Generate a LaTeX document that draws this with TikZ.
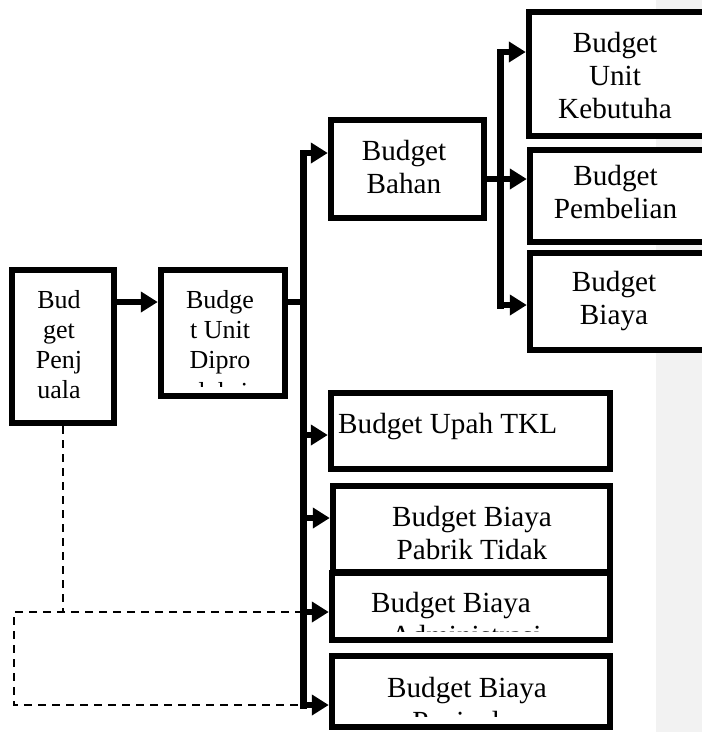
\documentclass[tikz,border=0pt]{standalone}
\usepackage{fontspec}
\setmainfont{Liberation Serif}
\usetikzlibrary{arrows.meta}
\begin{document}
\begin{tikzpicture}[x=1pt,y=-1pt,
  box/.style={draw, line width=6.5pt, fill=white, inner sep=0pt, rectangle},
  big/.style={font=\fontsize{29.2}{33}\selectfont, align=center, inner sep=0pt, anchor=base},
  small/.style={font=\fontsize{26}{30}\selectfont, align=center, inner sep=0pt, anchor=base},
  flow/.style={line width=6pt, -{Triangle[length=17pt,width=20pt]}},
  feed/.style={line width=6pt},
  trunk/.style={line width=7pt, line cap=rect},
  dashline/.style={line width=2.8pt, dash pattern=on 8pt off 6pt}
]
\useasboundingbox (0,0) rectangle (702,732);
\clip (0,0) rectangle (702,732);

% light side panel
\fill[gray!10] (656,0) rectangle (702,732);

% boxes
\node[box, minimum width=102pt, minimum height=153pt] (penj)  at (63,346.5) {};
\node[box, minimum width=124pt, minimum height=126pt] (prod)  at (223,333) {};
\node[box, minimum width=153pt, minimum height=98pt]  (bahan) at (407.5,169) {};
\node[box, minimum width=190pt, minimum height=124pt] (kebut) at (624,74) {};
\node[box, minimum width=190pt, minimum height=92pt]  (beli)  at (625,196) {};
\node[box, minimum width=190pt, minimum height=97pt]  (biaya) at (625,301.5) {};
\node[box, minimum width=279pt, minimum height=76pt]  (upah)  at (470.5,431) {};
\node[box, minimum width=277pt, minimum height=86pt]  (bop)   at (471.5,529) {};
\node[box, minimum width=278pt, minimum height=67pt]  (adm)   at (471,606.5) {};
\node[box, minimum width=278pt, minimum height=71pt]  (jual)  at (471,691.5) {};

% box texts (placed by the baseline of their last line)
\node[small] (penjT)  at (59,398)    {Bud\\get\\Penj\\uala};
\node[small] (prodT)  at (220,368)   {Budge\\t Unit\\Dipro};
\node[big]   (bahanT) at (404,193)   {Budget\\Bahan};
\node[big]   (kebutT) at (615,118)   {Budget\\Unit\\Kebutuha};
\node[big]   (beliT)  at (615.5,218) {Budget\\Pembelian};
\node[big]   (biayaT) at (614,324)   {Budget\\Biaya};
\node[big, anchor=base west] (upahT) at (338,433) {Budget Upah TKL};
\node[big]   (bopT)   at (472,559)   {Budget Biaya\\Pabrik Tidak};
\node[big]   (admT)   at (451,612)   {Budget Biaya};
\node[big]   (jualT)  at (467,697)   {Budget Biaya};

% lines cut off by the lower edge of their text boxes
\begin{scope}
  \clip (161,376) rectangle (285,386);
  \node[small] (prodX) at (220,400) {duksi};
\end{scope}
\begin{scope}
  \clip (336,620) rectangle (607,631);
  \node[big] (admX) at (466,645) {Administrasi};
\end{scope}
\begin{scope}
  \clip (336,705) rectangle (607,716);
  \node[big] (jualX) at (470,731) {Penjualan};
\end{scope}

% junction points
\coordinate (t1)    at (303,302);
\coordinate (t1top) at (303,153);
\coordinate (j1)    at (303,435);
\coordinate (j2)    at (303,518);
\coordinate (j3)    at (303,612);
\coordinate (t1bot) at (303,705);
\coordinate (t2)    at (500,179);
\coordinate (t2top) at (500,52);
\coordinate (t2bot) at (500,305);
\coordinate (dl)    at (14,612);

% dashed feedback lines
\draw[dashline] (penj.south) -- (penj.south |- dl);
\draw[dashline] (j3) -- (dl) -- (dl |- t1bot) -- (t1bot);

% main flow
\draw[flow] (penj.east |- t1) -- (prod.west |- t1);
\draw[feed] (prod.east |- t1) -- (t1);
\draw[trunk] (t1top) -- (t1bot);
\draw[flow] (t1top) -- (t1top -| bahan.west);
\draw[flow] (j1) -- (j1 -| upah.west);
\draw[flow] (j2) -- (j2 -| bop.west);
\draw[flow] (j3) -- (j3 -| adm.west);
\draw[flow] (t1bot) -- (t1bot -| jual.west);

% material branch
\draw[flow] (bahan.east |- t2) -- (t2 -| beli.west);
\draw[trunk] (t2top) -- (t2bot);
\draw[flow] (t2top) -- (t2top -| kebut.west);
\draw[flow] (t2bot) -- (t2bot -| biaya.west);
\end{tikzpicture}
\end{document}
